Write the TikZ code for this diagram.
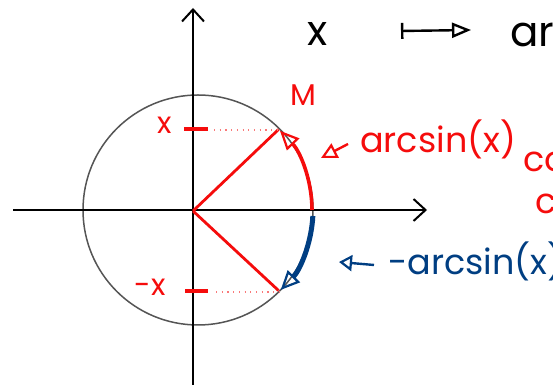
\documentclass[tikz,border=0pt]{standalone}
\usepackage{fontspec}
\setmainfont{Poppins}
\usetikzlibrary{arrows.meta,calc}
\definecolor{hred}{RGB}{245,12,12}
\definecolor{hblue}{RGB}{0,62,130}
\definecolor{hgray}{RGB}{85,85,85}
\begin{document}
\begin{tikzpicture}[x=1pt,y=1pt,
  axis/.style={line width=2.6pt,black,-{Straight Barb[length=12pt,width=22pt,line width=2pt]}},
  redline/.style={hred,line width=2.8pt},
  tickmark/.style={hred,line width=4pt},
  dotline/.style={hred!55,line width=1.2pt,dash pattern=on 1.2pt off 4.5pt},
  redlab/.style={text=hred,inner sep=0pt},
  bluelab/.style={text=hblue,inner sep=0pt},
  blklab/.style={text=black,inner sep=0pt},
  otip/.style={-{Triangle[open,length=19pt,width=17pt,line width=2.2pt]}}
]
\useasboundingbox (0,0) rectangle (553,387);
% coordinates
\coordinate (O) at (193,176);
\coordinate (C) at (198,177);
\coordinate (M) at ($(C)+(45:114)$);
\coordinate (P) at ($(C)+(-45:114)$);
\coordinate (E) at ($(C)+(0:114)$);
\coordinate (Eb) at ($(C)+(-3:115)$);
\coordinate (xl) at (13,177);
\coordinate (xr) at (427,177);
\coordinate (yb) at (193,379);
\coordinate (yt) at (193,2);
% circle
\draw[hgray,line width=1.5pt] (C) circle[radius=115];
% axes
\draw[axis] (xl) -- (xr);
\draw[axis] (yt) -- (yb);
% radii
\draw[redline] (O) -- (M);
\draw[redline] (O) -- (P);
% arcs
\draw[hred,line width=3.6pt,otip] (E) arc[start angle=0,end angle=44,radius=114];
\draw[hblue,line width=5pt,otip] (Eb) arc[start angle=-3,end angle=-44,radius=115];
% ticks and dotted lines
\coordinate (t1a) at (184,258); \coordinate (t1b) at (208,258);
\coordinate (t2a) at (185,96); \coordinate (t2b) at (208,96);
\draw[tickmark] (t1a) -- (t1b);
\draw[tickmark] (t2a) -- (t2b);
\coordinate (d1a) at (214,257); \coordinate (d1b) at (277,257);
\coordinate (d2a) at (216,95); \coordinate (d2b) at (279,95);
\draw[dotline] (d1a) -- (d1b);
\draw[dotline] (d2a) -- (d2b);
% labels
\node[redlab,font=\fontsize{30}{30}\selectfont] (lx) at (165,262) {x};
\node[redlab,font=\fontsize{30}{30}\selectfont] (lmx) at (150,100) {-x};
\node[redlab,font=\fontsize{30}{30}\selectfont] (lM) at (303,292) {M};
\node[redlab,font=\fontsize{35}{35}\selectfont,anchor=base west] (asin) at (360,234) {arcsin(x)};
\node[bluelab,font=\fontsize{35}{35}\selectfont,anchor=base west] (masin) at (388,112) {-arcsin(x)};
\node[redlab,font=\fontsize{35}{35}\selectfont,anchor=base west] (co) at (523,215) {co};
\node[redlab,font=\fontsize{35}{35}\selectfont,anchor=base west] (c2) at (535,173) {c};
% pointer arrows
\coordinate (ra1) at (348,243); \coordinate (ra2) at (321,229);
\draw[hred,line width=2.4pt,-{Triangle[open,length=16pt,width=16pt,line width=2.2pt]}] (ra1) -- (ra2);
\coordinate (ba1) at (374,122); \coordinate (ba2) at (339,125);
\draw[hblue,line width=2.4pt,-{Triangle[open,length=13pt,width=16pt,line width=2.2pt]}] (ba1) -- (ba2);
% top row
\node[blklab,font=\fontsize{42}{42}\selectfont] (tx) at (318,353) {x};
\coordinate (ma) at (401,356); \coordinate (mb) at (471,357);
\draw[black,line width=2.4pt,{Bar[width=16pt,line width=2.4pt]}-{Triangle[open,length=19pt,width=15pt,line width=2.4pt]}] (ma) -- (mb);
\node[blklab,font=\fontsize{42}{42}\selectfont,anchor=base west] (tarc) at (510,340) {arc};
\end{tikzpicture}
\end{document}
